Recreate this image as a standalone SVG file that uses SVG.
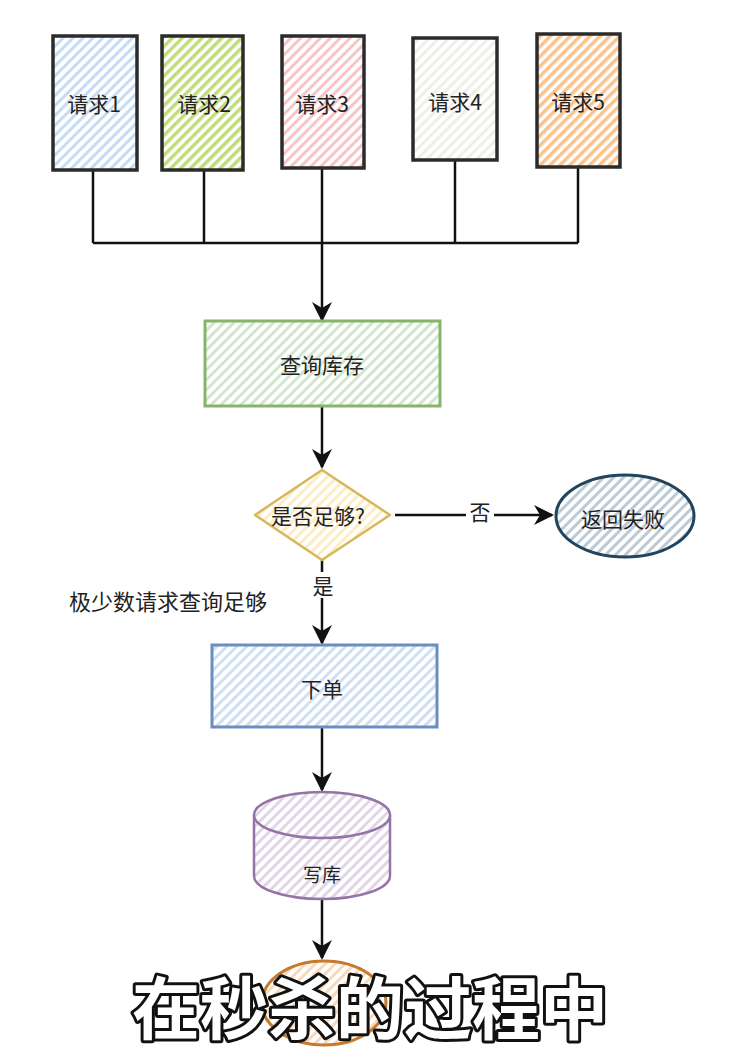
<svg xmlns="http://www.w3.org/2000/svg" width="730" height="1063" viewBox="0 0 730 1063">
<style>
.lbl{font-family:"Noto Sans CJK SC","Liberation Sans",sans-serif;font-size:21px;fill:#222;text-anchor:middle;dominant-baseline:central}
.req{stroke:#2b2b2b;stroke-width:3.5}
.conn{fill:none;stroke:#111;stroke-width:2.5}
.sub{font-family:"Noto Sans CJK SC","Liberation Sans",sans-serif;font-weight:bold;font-size:68px;fill:#fff;stroke:#111;stroke-width:6;paint-order:stroke;stroke-linejoin:round;text-anchor:middle}
</style>
<defs>
<pattern id="hBlue" width="7" height="7" patternUnits="userSpaceOnUse" patternTransform="rotate(45)"><rect width="7" height="7" fill="#fff"/><rect width="3" height="7" fill="#c6dbf5"/></pattern>
<pattern id="hGreen2" width="7" height="7" patternUnits="userSpaceOnUse" patternTransform="rotate(45)"><rect width="7" height="7" fill="#fff"/><rect width="3.5" height="7" fill="#c2dc7c"/></pattern>
<pattern id="hRed" width="7" height="7" patternUnits="userSpaceOnUse" patternTransform="rotate(45)"><rect width="7" height="7" fill="#fff"/><rect width="3" height="7" fill="#f8c4c4"/></pattern>
<pattern id="hGrey" width="7" height="7" patternUnits="userSpaceOnUse" patternTransform="rotate(45)"><rect width="7" height="7" fill="#fff"/><rect width="3" height="7" fill="#efefea"/></pattern>
<pattern id="hOrange" width="7" height="7" patternUnits="userSpaceOnUse" patternTransform="rotate(45)"><rect width="7" height="7" fill="#fff"/><rect width="3.5" height="7" fill="#fcc28c"/></pattern>
<pattern id="hGreen" width="7" height="7" patternUnits="userSpaceOnUse" patternTransform="rotate(45)"><rect width="7" height="7" fill="#fff"/><rect width="3" height="7" fill="#d2e6cf"/></pattern>
<pattern id="hYellow" width="7" height="7" patternUnits="userSpaceOnUse" patternTransform="rotate(45)"><rect width="7" height="7" fill="#fff"/><rect width="3" height="7" fill="#fcedc4"/></pattern>
<pattern id="hSlate" width="7" height="7" patternUnits="userSpaceOnUse" patternTransform="rotate(45)"><rect width="7" height="7" fill="#fff"/><rect width="3" height="7" fill="#bccad5"/></pattern>
<pattern id="hBlue2" width="7" height="7" patternUnits="userSpaceOnUse" patternTransform="rotate(45)"><rect width="7" height="7" fill="#fff"/><rect width="3" height="7" fill="#cfdff4"/></pattern>
<pattern id="hPurple" width="7" height="7" patternUnits="userSpaceOnUse" patternTransform="rotate(45)"><rect width="7" height="7" fill="#fff"/><rect width="3" height="7" fill="#e0d6e6"/></pattern>
<pattern id="hPeach" width="7" height="7" patternUnits="userSpaceOnUse" patternTransform="rotate(45)"><rect width="7" height="7" fill="#fff"/><rect width="3" height="7" fill="#f9d9b9"/></pattern>
<marker id="arr" viewBox="0 0 10 10" refX="9" refY="5" markerWidth="8" markerHeight="8" orient="auto-start-reverse" markerUnits="strokeWidth"><path d="M0,0 L10,5 L0,10 L3,5 Z" fill="#111"/></marker>
</defs>

<g id="connectors">
<path class="conn" d="M93,170 V243 M204,170 V243 M322,168 V243 M455,160 V243 M578,167 V243 M93,243 H578"/>
<path class="conn" d="M322,243 V320" marker-end="url(#arr)"/>
<path class="conn" d="M322,406 V467" marker-end="url(#arr)"/>
<path class="conn" d="M395,515 H466"/>
<path class="conn" d="M494,515 H552" marker-end="url(#arr)"/>
<text class="lbl" x="480" y="511">否</text>
<path class="conn" d="M322,560 V572"/>
<path class="conn" d="M322,598 V643" marker-end="url(#arr)"/>
<text class="lbl" x="323" y="585">是</text>
<path class="conn" d="M322,727 V790" marker-end="url(#arr)"/>
<path class="conn" d="M322,900 V958" marker-end="url(#arr)"/>
</g>

<g id="req1"><rect class="req" x="53" y="36" width="84" height="134" fill="url(#hBlue)"/><text class="lbl" x="94" y="103">请求1</text></g>
<g id="req2"><rect class="req" x="162" y="36" width="81" height="134" fill="url(#hGreen2)"/><text class="lbl" x="204" y="103">请求2</text></g>
<g id="req3"><rect class="req" x="282" y="36" width="82" height="132" fill="url(#hRed)"/><text class="lbl" x="322" y="103">请求3</text></g>
<g id="req4"><rect class="req" x="413" y="38" width="84" height="122" fill="url(#hGrey)"/><text class="lbl" x="455" y="101">请求4</text></g>
<g id="req5"><rect class="req" x="537" y="34" width="83" height="133" fill="url(#hOrange)"/><text class="lbl" x="578" y="101">请求5</text></g>

<g id="query"><rect x="205" y="321" width="235" height="85" fill="url(#hGreen)" stroke="#86b56a" stroke-width="3"/><text class="lbl" x="322" y="364">查询库存</text></g>

<g id="decision"><path d="M322,470 L390,515 L322,560 L255,515 Z" fill="url(#hYellow)" stroke="#d8b65a" stroke-width="2.5" stroke-linejoin="round"/><text class="lbl" x="318" y="515">是否足够?</text></g>

<g id="fail"><ellipse cx="625" cy="516" rx="69" ry="41" fill="url(#hSlate)" stroke="#23445d" stroke-width="3"/><text class="lbl" x="623" y="518">返回失败</text></g>

<text class="lbl" x="168" y="600" style="font-size:22px">极少数请求查询足够</text>

<g id="order"><rect x="212" y="645" width="225" height="82" fill="url(#hBlue2)" stroke="#6c8ebf" stroke-width="3"/><text class="lbl" x="322" y="688">下单</text></g>

<g id="db"><path d="M254,815 V876 A68,23 0 0 0 390,876 V815" fill="url(#hPurple)" stroke="#9673a6" stroke-width="2.5"/><ellipse cx="322" cy="815" rx="68" ry="23" fill="url(#hPurple)" stroke="#9673a6" stroke-width="2.5"/><text class="lbl" x="322" y="873" style="font-size:19px">写库</text></g>

<g id="end"><ellipse cx="324" cy="1003" rx="62" ry="42" fill="url(#hPeach)" stroke="#c77a2e" stroke-width="3"/></g>

<text class="sub" x="370" y="1034">在秒杀的过程中</text>
</svg>
